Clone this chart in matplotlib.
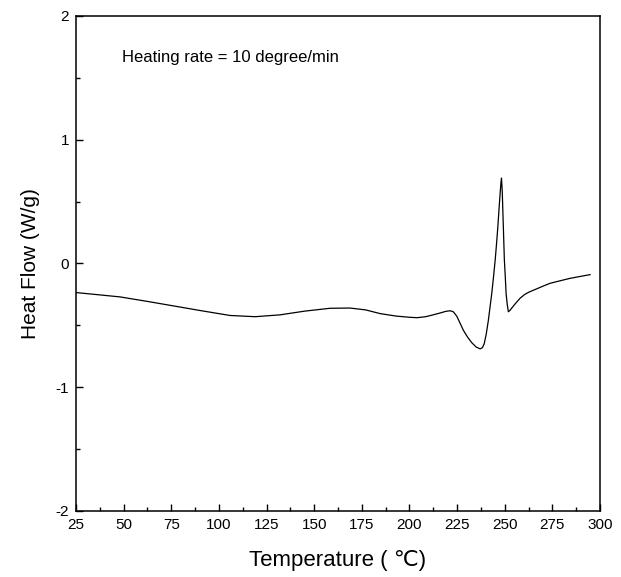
import matplotlib
matplotlib.use("Agg")
import matplotlib.pyplot as plt
from matplotlib.ticker import MultipleLocator

plt.rcParams['font.family'] = ['Liberation Sans', 'DejaVu Sans']
plt.rcParams['axes.unicode_minus'] = False

# DSC trace
temperature = [25.0, 35.0, 48.1, 63.8, 77.0, 90.1, 105.8, 119.0, 132.1, 145.0,
               158.3, 168.8, 177.0, 184.6, 193.0, 200.3, 204.0, 208.5, 212.4,
               216.1, 219.0, 221.3, 223.0, 224.8, 226.5, 228.3, 230.5, 232.7,
               235.0, 237.1, 238.3, 239.2, 240.3, 241.4, 242.3, 243.2, 244.1,
               245.0, 245.7, 246.4, 247.0, 247.6, 248.0, 248.3, 248.7, 249.0,
               249.4, 249.8, 250.3, 250.7, 251.3, 251.9, 252.7, 253.7, 255.8,
               258.1, 260.5, 262.9, 266.0, 269.8, 273.8, 279.0, 284.3, 289.5,
               294.8]
heat_flow = [-0.235, -0.25, -0.27, -0.31, -0.345, -0.38, -0.42, -0.43, -0.415, -0.385,
             -0.362, -0.36, -0.375, -0.405, -0.425, -0.435, -0.438, -0.43, -0.415,
             -0.40, -0.387, -0.382, -0.39, -0.425, -0.48, -0.54, -0.595, -0.64,
             -0.675, -0.69, -0.68, -0.65, -0.57, -0.46, -0.35, -0.24, -0.11,
             0.03, 0.16, 0.30, 0.44, 0.57, 0.65, 0.69, 0.58, 0.43,
             0.23, 0.03, -0.11, -0.24, -0.33, -0.39, -0.38, -0.36, -0.32,
             -0.28, -0.25, -0.23, -0.21, -0.185, -0.16, -0.14, -0.12, -0.105,
             -0.09]

x_ticks = [25, 50, 75, 100, 125, 150, 175, 200, 225, 250, 275, 300]
y_ticks = [-2, -1, 0, 1, 2]

fig = plt.figure(figsize=(6.21, 5.77), dpi=100)
ax = fig.add_axes([0.1224, 0.1144, 0.8438, 0.8579])

ax.plot(temperature, heat_flow, color='black', linewidth=0.9)

ax.set_xlim(25, 300)
ax.set_ylim(-2, 2)
ax.set_xticks(x_ticks)
ax.set_yticks(y_ticks)
ax.xaxis.set_minor_locator(MultipleLocator(12.5))
ax.yaxis.set_minor_locator(MultipleLocator(0.5))
ax.tick_params(which='major', direction='in', length=5, width=1, labelsize=11, pad=5)
ax.tick_params(which='minor', direction='in', length=3, width=1)
for s in ax.spines.values():
    s.set_linewidth(1.1)

ax.set_xlabel('Temperature ( \u2103)', fontsize=16, labelpad=13)
ax.set_ylabel('Heat Flow (W/g)', fontsize=15, labelpad=11)

fig.text(0.196, 0.8995, 'Heating rate = 10 degree/min', fontsize=12,
         va='center', ha='left')

fig.savefig('out.png', dpi=100)
